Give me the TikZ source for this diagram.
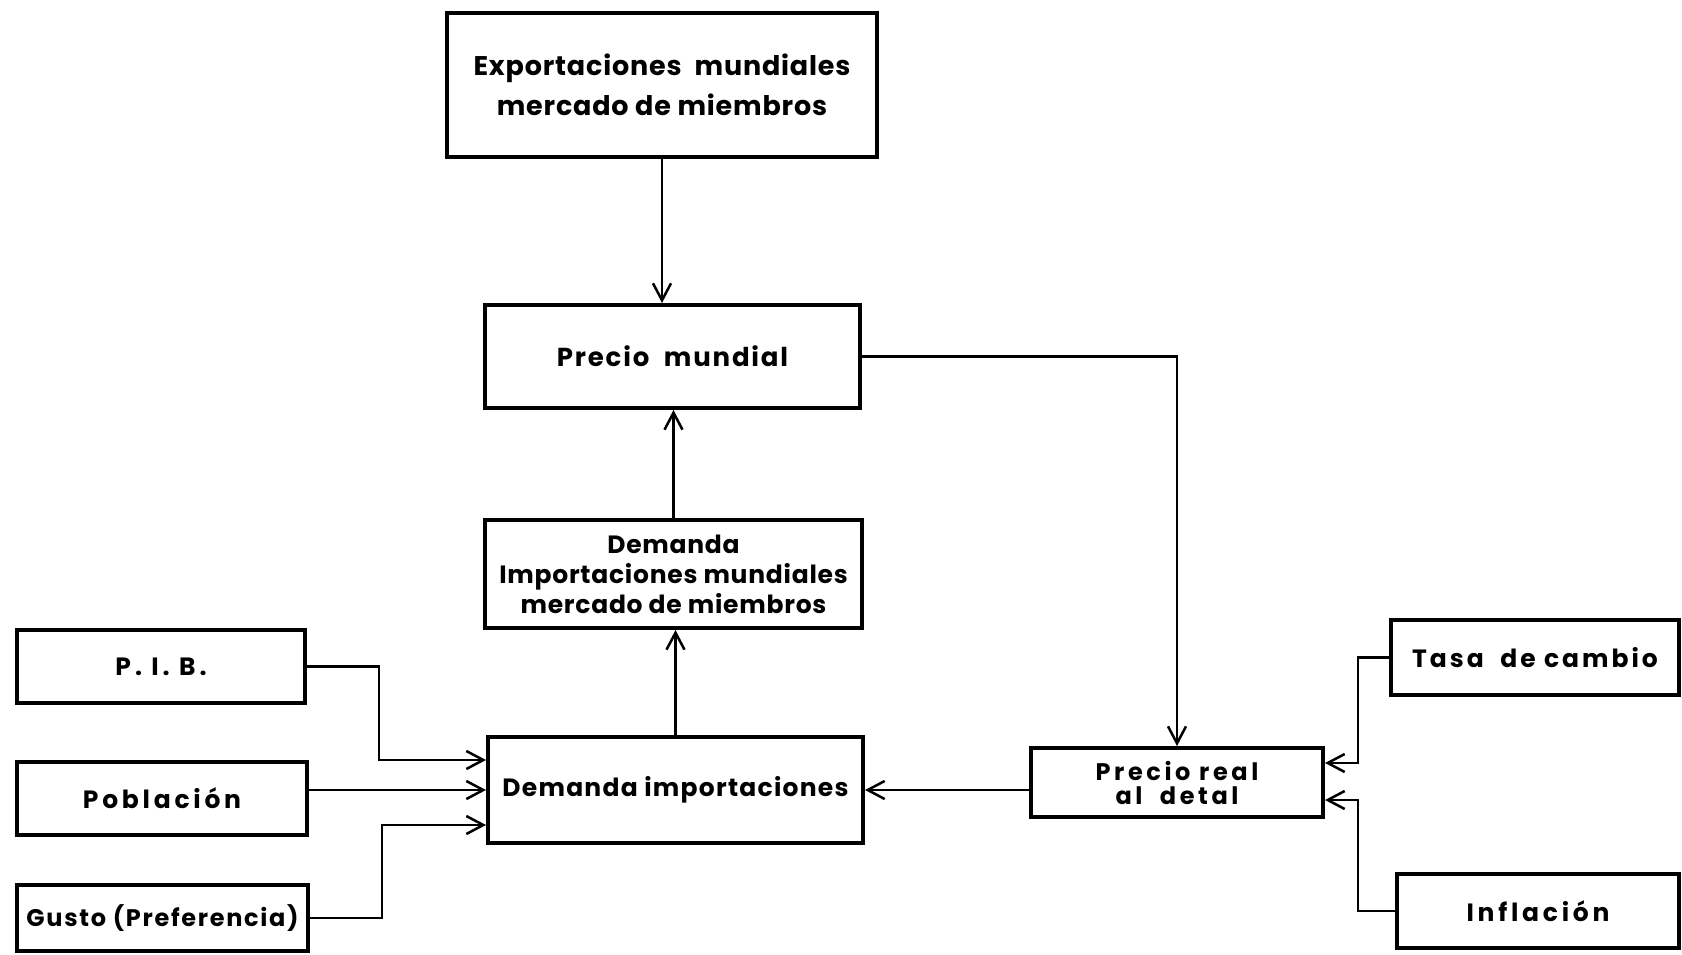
\documentclass[tikz,border=0pt]{standalone}
\usepackage{fontspec}
\setmainfont{Poppins}
\usetikzlibrary{arrows.meta,calc}
\tikzset{
  box/.style={draw, line width=4pt, rectangle, inner sep=0pt, align=center},
  conn/.style={line width=2.5pt},
  arr/.style={conn, -{Straight Barb[length=17pt,width=18pt,line width=2.5pt]}},
  ls/.style={font=\fontsize{#1}{30}\selectfont\bfseries},
}
\newcommand{\lsp}[1]{\addfontfeature{LetterSpace=#1}}
\begin{document}
\begin{tikzpicture}[x=1pt,y=-1pt]
\useasboundingbox (0,0) rectangle (1682,954);
\node[box, minimum width=430pt, minimum height=144pt, font=\fontsize{27}{40}\selectfont\bfseries\lsp{3}] (exp) at (662,85) {Exportaciones\ \ mundiales\\mercado de miembros};
\node[box, minimum width=375pt, minimum height=103pt, font=\fontsize{26}{34}\selectfont\bfseries\lsp{7}] (pm) at (672.5,356.5) {Precio\ \ mundial};
\node[box, minimum width=377pt, minimum height=108pt, font=\fontsize{25}{30}\selectfont\bfseries\lsp{3}] (dim) at (673.5,574) {Demanda\\Importaciones mundiales\\mercado de miembros};
\node[box, minimum width=288pt, minimum height=73pt, font=\fontsize{25}{30}\selectfont\bfseries\lsp{16}] (pib) at (161,666.5) {P. I. B.};
\node[box, minimum width=290pt, minimum height=73pt, font=\fontsize{25}{30}\selectfont\bfseries\lsp{15}] (pob) at (162,798.5) {Población};
\node[box, minimum width=291pt, minimum height=66pt, font=\fontsize{24}{30}\selectfont\bfseries\lsp{7}] (gus) at (162.5,918) {Gusto (Preferencia)};
\node[box, minimum width=375pt, minimum height=106pt, font=\fontsize{25}{30}\selectfont\bfseries\lsp{5}] (di) at (675.5,790) {Demanda importaciones};
\node[box, minimum width=292pt, minimum height=69pt, font=\fontsize{24}{24}\selectfont\bfseries\lsp{15}] (pr) at (1177,782.5) {Precio real\\al\ \ detal};
\node[box, minimum width=288pt, minimum height=75pt, font=\fontsize{25}{30}\selectfont\bfseries\lsp{12}] (tc) at (1535,657.5) {Tasa\ \ de cambio};
\node[box, minimum width=282pt, minimum height=74pt, font=\fontsize{25}{30}\selectfont\bfseries\lsp{15}] (inf) at (1538,911) {Inflación};

\draw[arr] (exp.south) -- (exp.south |- pm.north);
\draw[arr] (dim.north) -- (dim.north |- pm.south);
\draw[arr] (di.north) -- (di.north |- dim.south);
\draw[arr] (pm.east) -| (pr.north);
\draw[arr] (pr.west |- di.east) -- (di.east);
\draw[arr] (pib.east) -- ++(72,0) |- ([yshift=30pt]di.west);
\draw[arr] (di.west -| pob.east) -- (di.west);
\draw[arr] (gus.east) -- ++(72,0) |- ([yshift=-35pt]di.west);
\draw[arr] (tc.west) -- ++(-31,0) |- ([yshift=19.5pt]pr.east);
\draw[arr] (inf.west) -- ++(-37,0) |- ([yshift=-17.5pt]pr.east);
\end{tikzpicture}
\end{document}
